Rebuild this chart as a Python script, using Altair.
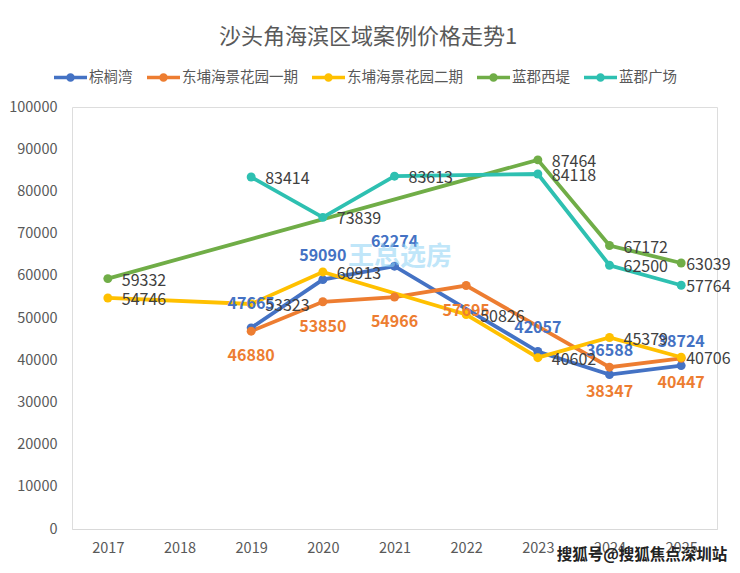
import altair as alt
import pandas as pd

years = ["2017", "2018", "2019", "2020", "2021", "2022", "2023", "2024", "2025"]
series_names = ["棕榈湾", "东埔海景花园一期", "东埔海景花园二期", "蓝郡西堤", "蓝郡广场"]
series_colors = ["#4472C4", "#ED7D31", "#FFC000", "#70AD47", "#2EC0B1"]

zonglvwan = [None, None, 47665, 59090, 62274, None, 42057, 36588, 38724]
dongpu_1 = [None, None, 46880, 53850, 54966, 57695, None, 38347, 40447]
dongpu_2 = [54746, None, 53323, 60913, None, 50826, 40602, 45379, 40706]
lanjun_xidi = [59332, None, None, None, None, None, 87464, 67172, 63039]
lanjun_guangchang = [None, None, 83414, 73839, 83613, None, 84118, 62500, 57764]

title_text = "沙头角海滨区域案例价格走势1"
watermark_texts = ["王总选房", "搜狐号@搜狐焦点深圳站"]

all_values = [zonglvwan, dongpu_1, dongpu_2, lanjun_xidi, lanjun_guangchang]

rows = []
for name, vals in zip(series_names, all_values):
    for yr, v in zip(years, vals):
        if v is not None:
            rows.append({"year": yr, "series": name, "value": v})
df = pd.DataFrame(rows)

FONT = "Noto Sans CJK SC"

x_enc = alt.X("year:N", sort=years,
              scale=alt.Scale(type="point", domain=years, padding=0.5),
              axis=alt.Axis(title=None, labelAngle=0, ticks=False, domain=True,
                            domainColor="#D9D9D9", domainWidth=1.2,
                            labelColor="#595959", labelFontSize=14.5,
                            labelPadding=12, labelFont=FONT))
y_enc = alt.Y("value:Q",
              scale=alt.Scale(domain=[0, 100000], nice=False),
              axis=alt.Axis(title=None, values=list(range(0, 100001, 10000)),
                            format="d", grid=False, domain=False, ticks=False,
                            labelColor="#595959", labelFontSize=14.5,
                            labelPadding=15, labelFont=FONT))

color_scale = alt.Scale(domain=series_names, range=series_colors)

legend_symbol = ("M-1,-0.1 L1,-0.1 L1,0.1 L-1,0.1 Z "
                 "M-0.26,0 A0.26,0.26 0 1,1 0.26,0 A0.26,0.26 0 1,1 -0.26,0 Z")

color_enc = alt.Color("series:N", scale=color_scale, sort=series_names,
                      legend=alt.Legend(title=None, orient="none", direction="horizontal",
                                        legendX=-18, legendY=-46,
                                        symbolType=legend_symbol, symbolSize=1089,
                                        symbolStrokeWidth=0, symbolOpacity=1,
                                        labelFontSize=14.5, labelColor="#595959",
                                        labelFont=FONT, labelOffset=2,
                                        columnPadding=14))

base = alt.Chart(df)

lines = base.mark_line(strokeWidth=3.8).encode(x=x_enc, y=y_enc, color=color_enc)
points = base.mark_circle(size=80, opacity=1).encode(x=x_enc, y=y_enc, color=color_enc)

blue_labels = base.transform_filter(alt.datum.series == "棕榈湾").mark_text(
    dy=-24, fontSize=16, fontWeight="bold", font=FONT, baseline="middle", align="center"
).encode(x=x_enc, y=y_enc, text=alt.Text("value:Q", format="d"), color=alt.value("#4472C4"))

orange_labels = base.transform_filter(alt.datum.series == "东埔海景花园一期").mark_text(
    dy=25, fontSize=16, fontWeight="bold", font=FONT, baseline="middle", align="center"
).encode(x=x_enc, y=y_enc, text=alt.Text("value:Q", format="d"), color=alt.value("#ED7D31"))

gray_filter = ((alt.datum.series != "棕榈湾") & (alt.datum.series != "东埔海景花园一期"))

gray_labels = base.transform_filter(gray_filter & (alt.datum.year != "2025")).mark_text(
    dx=14, dy=2, fontSize=16, font=FONT, baseline="middle", align="left"
).encode(x=x_enc, y=y_enc, text=alt.Text("value:Q", format="d"), color=alt.value("#404040"))

gray_labels_last = base.transform_filter(gray_filter & (alt.datum.year == "2025")).mark_text(
    dx=5, dy=2, fontSize=16, font=FONT, baseline="middle", align="left"
).encode(x=x_enc, y=y_enc, text=alt.Text("value:Q", format="d"), color=alt.value("#404040"))

title_df = pd.DataFrame({"t": [title_text]})
title_mark = alt.Chart(title_df).mark_text(
    fontSize=22, font=FONT, color="#595959", align="center", baseline="middle"
).encode(text="t:N", x=alt.value(296), y=alt.value(-70))

wm1_df = pd.DataFrame({"t": [watermark_texts[0]]})
watermark1 = alt.Chart(wm1_df).mark_text(
    fontSize=26, fontWeight="bold", font=FONT, color="#8ED2F5", opacity=0.55,
    align="center", baseline="middle"
).encode(text="t:N", x=alt.value(328), y=alt.value(150))

wm2_df = pd.DataFrame({"t": [watermark_texts[1]]})
watermark2 = alt.Chart(wm2_df).mark_text(
    fontSize=15.5, fontWeight="bold", font=FONT, color="#222222",
    align="center", baseline="middle"
).encode(text="t:N", x=alt.value(570), y=alt.value(448))

chart = alt.layer(
    lines, points, blue_labels, orange_labels, gray_labels, gray_labels_last,
    title_mark, watermark1, watermark2
).properties(
    width=645, height=422,
    autosize=alt.AutoSizeParams(type="none"),
    padding={"left": 64, "top": 99, "right": 15, "bottom": 36},
).configure_view(stroke=None).configure(background="white")

chart.save("out.html", embed_options={"renderer": "svg", "actions": False})
